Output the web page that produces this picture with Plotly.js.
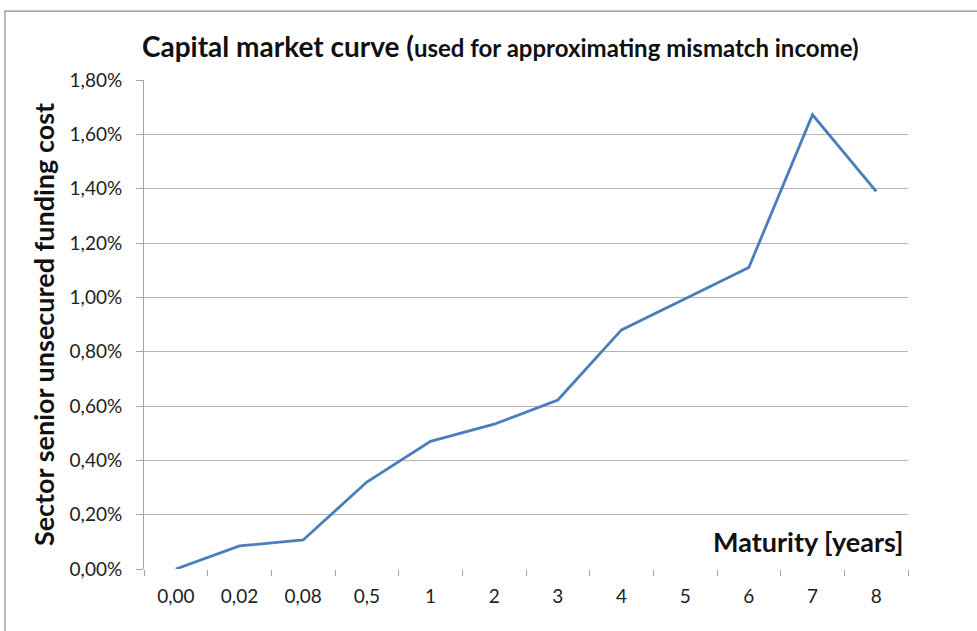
<!DOCTYPE html>
<html>
<head>
<meta charset="utf-8">
<script src="https://cdn.plot.ly/plotly-3.0.1.min.js"></script>
<style>html,body{margin:0;padding:0;background:#fff;}#chart{width:977px;height:631px;}</style>
</head>
<body>
<div id="chart"></div>
<script>
const maturities = ["0,00","0,02","0,08","0,5","1","2","3","4","5","6","7","8"];
const fundingCostPct = [0.00, 0.085, 0.107, 0.32, 0.47, 0.533, 0.622, 0.88, 0.995, 1.11, 1.672, 1.39];
const yTicks = [0,0.2,0.4,0.6,0.8,1.0,1.2,1.4,1.6,1.8];

const F = "Lato, 'Open Sans', sans-serif";
const trace = {
  x: maturities,
  y: fundingCostPct.map(v => v/100),
  type: 'scatter', mode: 'lines',
  line: {color: '#4a7ebb', width: 2.8},
  hoverinfo: 'x+y'
};
const layout = {
  width: 977, height: 631,
  margin: {l:144, r:69, t:80, b:62},
  paper_bgcolor: '#fff', plot_bgcolor: '#fff',
  separators: ',.',
  showlegend: false,
  font: {family: F, color: '#222'},
  title: {
    text: 'Capital market curve (<span style="font-size:24px">used for approximating mismatch income)</span>',
    font: {family: F, size: 28, color: '#111', weight: 'bold'},
    x: 0.512, xanchor: 'center', xref: 'container', y: 0.925, yanchor: 'middle'
  },
  xaxis: {
    type: 'category',
    range: [-0.5, 11.5],
    showgrid: false,
    showline: false,
    ticks: 'outside', ticklen: 6, tickcolor: '#a6a6a6', tickwidth: 1,
    tickmode: 'array', tickvals: maturities, ticktext: maturities,
    tickson: 'boundaries',
    tickfont: {size: 19, color: '#222', family: F},
    ticklabelstandoff: 14,
    zeroline: false, fixedrange: true
  },
  yaxis: {
    range: [0, 0.018],
    tickvals: yTicks.map(v => v/100),
    tickformat: '.2%',
    showgrid: true, gridcolor: '#b5b5b5', gridwidth: 1,
    showline: true, linecolor: '#a6a6a6', linewidth: 1,
    ticks: 'outside', ticklen: 7, tickcolor: '#a6a6a6',
    tickfont: {size: 19, color: '#222', family: F},
    ticklabelstandoff: 10,
    zeroline: false,
    title: {text: 'Sector senior unsecured funding cost', font: {size: 27, family: F, color: '#111', weight: 'bold'}, standoff: 7}
  },
  annotations: [{
    text: 'Maturity [years]', xref: 'paper', yref: 'paper', x: 0.996, y: 0.018,
    xanchor: 'right', yanchor: 'bottom', showarrow: false,
    font: {size: 27, family: F, color: '#111', weight: 'bold'}
  }],
  shapes: [{
    type: 'rect', xref: 'paper', yref: 'paper',
    x0: -0.182, x1: 1.3, y0: -0.3, y1: 1.141,
    line: {color: '#8c8c8c', width: 1.2}, fillcolor: 'rgba(0,0,0,0)', layer: 'below'
  }]
};
Plotly.newPlot('chart', [trace], layout, {displayModeBar: false, staticPlot: true});
</script>
</body>
</html>
